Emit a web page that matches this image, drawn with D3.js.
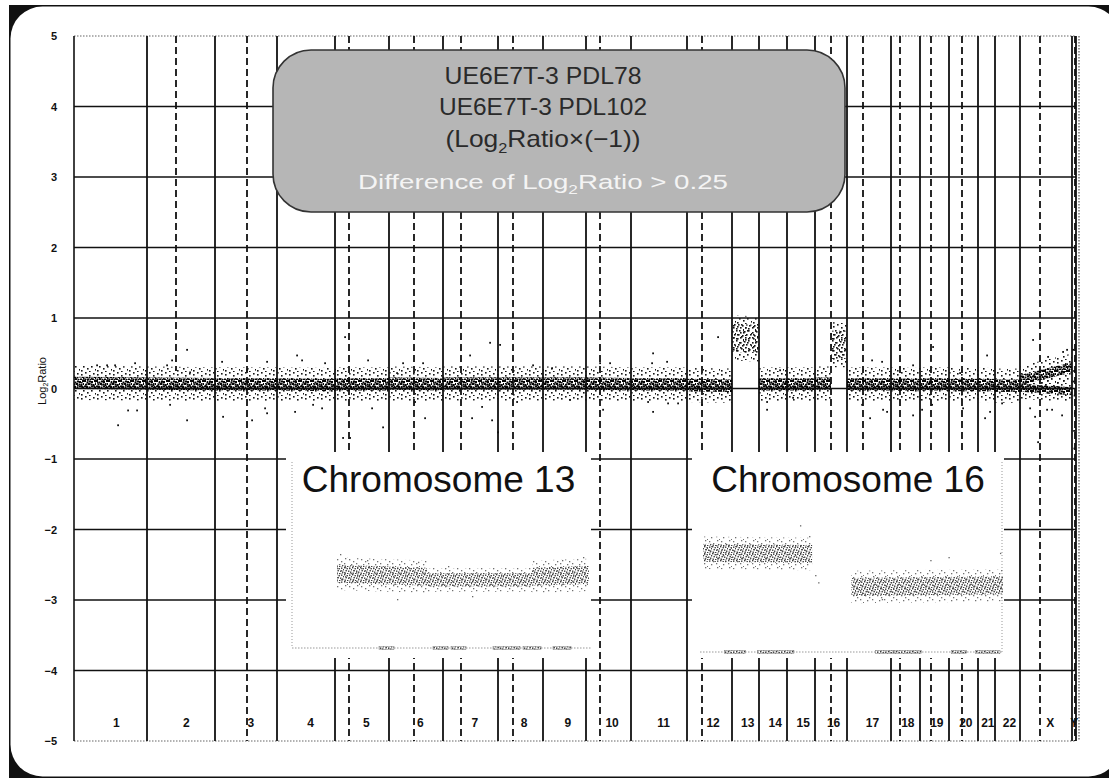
<!DOCTYPE html>
<html><head><meta charset="utf-8">
<script src="https://cdn.jsdelivr.net/npm/d3@7"></script>
<style>body{margin:0;background:#fff;} svg{display:block;}</style>
</head><body>
<svg id="c" width="1109" height="783"></svg>
<script>
// ---- genome layout (array positions per chromosome) ----
const chromNames = ["1","2","3","4","5","6","7","8","9","10","11","12","13","14","15","16","17","18","19","20","21","22","X","Y"];
const chromSpan  = [730,680,620,580,540,540,550,450,430,450,560,450,270,280,280,320,440,290,290,290,170,250,520,40];
// centromere offset inside each chromosome (null = not marked) and the log-ratio where its mark stops
const centromere   = [null,290,320,null,140,250,180,150,null,140,null,150,null,null,null,160,160,90,110,130,null,null,200,30];
const centromereTo = [-5,0.25,-5,-5,-5,-5,-5,-5,-5,-5,-5,-5,-5,-5,-5,-5,-1,-5,-5,-5,-5,-5,-5,-5];
const yTicks = [5,4,3,2,1,0,-1,-2,-3,-4,-5];

// smoothed signal per segment: chromosome, from, to, level at start, level at end, spread
const segments = [
  ["1",0,730,0.08,0.07,0.11], ["2",0,680,0.07,0.06,0.11], ["3",0,620,0.06,0.06,0.11],
  ["4",0,580,0.06,0.05,0.11], ["5",0,540,0.06,0.06,0.11], ["6",0,540,0.07,0.06,0.11],
  ["7",0,550,0.07,0.07,0.11], ["8",0,450,0.07,0.07,0.11], ["9",0,430,0.07,0.07,0.11],
  ["10",0,450,0.07,0.06,0.11], ["11",0,560,0.06,0.06,0.11], ["12",0,450,0.05,0.04,0.11],
  ["13",0,270,0.72,0.70,0.2], ["14",0,280,0.06,0.06,0.11], ["15",0,280,0.06,0.06,0.11],
  ["16",0,160,0.07,0.07,0.11], ["16",160,320,0.62,0.62,0.2], ["17",0,440,0.06,0.06,0.11],
  ["18",0,290,0.06,0.05,0.11], ["19",0,290,0.06,0.06,0.11], ["20",0,290,0.05,0.05,0.11],
  ["21",0,170,0.05,0.05,0.11], ["22",0,250,0.04,0.04,0.11],
  ["X",0,520,0.01,-0.04,0.07], ["X",0,520,0.12,0.30,0.09]
];
// individual probes away from the main band: genome position, log ratio
const outliers = [
  [230,0.33],[330,0.33],[410,0.33],[440,-0.52],[540,-0.31],[630,-0.31],[610,0.36],[930,0.33],
  [980,0.40],[1130,0.55],[1130,-0.45],[960,-0.23],[1160,0.23],[1480,0.38],[1490,-0.40],[1730,0.26],
  [1780,-0.45],[1930,0.38],[1910,-0.28],[1930,-0.35],[2230,0.47],[2210,-0.33],[2280,0.40],[2390,-0.23],
  [2480,-0.28],[2510,0.36],[2710,0.73],[2690,-0.70],[2760,-0.70],[2940,0.40],[2980,-0.28],[3090,-0.55],
  [3230,0.22],[3290,0.36],[3490,0.36],[3510,-0.42],[3410,-0.19],[3960,0.47],[4160,0.65],[4180,-0.45],
  [4260,0.62],[4240,-0.62],[4080,-0.26],[3980,-0.42],[4430,-0.19],[4590,0.33],[4780,0.29],[4960,-0.16],
  [5260,0.36],[5290,-0.30],[5360,0.36],[5740,-0.19],[5790,0.50],[5780,0.36],[5790,-0.33],[5930,0.38],
  [5940,-0.21],[6040,-0.21],[6440,0.73],[6280,-0.23],[6930,-0.19],[6930,-0.30],[7060,0.26],[7190,-0.13],
  [7880,-0.23],[7960,-0.42],[7980,0.40],[8080,0.38],[8090,-0.30],[8130,-0.33],[8260,0.30],[8390,0.33],
  [8390,-0.38],[8590,0.59],[8480,-0.30],[8580,-0.23],[8860,0.22],[8890,-0.28],[9130,0.47],[9110,-0.42],
  [9160,-0.33],[9280,-0.21],[9590,0.69],[9560,-0.28],[9610,-0.40],[9730,-0.30],[9740,0.45],[9780,-0.30],
  [9890,0.52],[9880,-0.38],[9930,0.55],[9640,-0.76],
  [9990,0.55],[10000,0.25],[10005,-0.10],[10010,-0.35],[10000,-0.60],[9995,0.10],[10012,0.40],[10003,-0.85]
];

// detail views: percent along chromosome, level start, level end, spread
const detail13 = [[15,45,0.22,0.17,0.15],[45,80,0.12,0.12,0.11],[80,99,0.17,0.2,0.15]];
const detail16 = [[1,37,0.57,0.55,0.15],[50,100,0.0,0.03,0.15]];
const detail13Pts = [[16,0.55],[25,0.45],[42,0.42],[52,0.35],[90,0.45],[97,0.5],[35,-0.2],[60,-0.15]];
const detail16Pts = [[33,1.03],[36,0.85],[38,0.2],[39,0.08],[76,0.45],[82,0.5],[99,0.57],[60,-0.2]];
// cytoband blocks drawn along the base of each detail view (percent)
const bands13 = [[29,34],[47,52],[53,58],[67,76],[77,83],[87,93]];
const bands16 = [[8,15],[19,31],[58,64],[64,73],[83,88],[91,99]];

const totalSpan = d3.sum(chromSpan);
const chromStart = d3.cumsum([0, ...chromSpan]).slice(0, chromSpan.length);
const startOf = name => chromStart[chromNames.indexOf(name)];

const svg = d3.select("#c");
const defs = svg.append("defs");
const gx = d3.scaleLinear().domain([0, totalSpan]).range([74, 1076]);
const gy = d3.scaleLinear().domain([-5, 5]).range([741, 36]);

function dotPattern(id, w, h, dots, size, color) {
  const p = defs.append("pattern").attr("id", id).attr("patternUnits", "userSpaceOnUse")
    .attr("width", w).attr("height", h);
  p.selectAll("rect").data(dots).join("rect")
    .attr("x", d => d[0]).attr("y", d => d[1]).attr("width", size).attr("height", size).attr("fill", color);
}
dotPattern("core", 12, 10, [[0,0],[2.5,1.5],[5,0.5],[7,1],[10,0],[1.5,3.5],[4,3],[6.5,3.5],[8.5,4],[11,3],
  [0,5.5],[2,6],[4.5,6.5],[7,5.5],[9.5,6],[11,7],[0.5,8.5],[3,8.5],[5.5,9],[8,8.5],[10,9.5]], 2, "#050505");
dotPattern("halo", 16, 12, [[1,2],[5,0],[9,3],[13,1],[3,6],[7,8],[11,6],[15,9],[1,10],[9,11]], 1.6, "#151515");
dotPattern("mid", 12, 10, [[0,1],[4,0],[8,2],[11,0],[2,4],[6,4],[10,5],[1,7],[4,8],[8,7],[11,9]], 1.6, "#151515");
dotPattern("gcore", 8, 7, [[0,0],[2.5,1],[5,0.5],[7,2],[1.5,3],[4,3.5],[6,4.5],[0.5,5.5],[3,6],[5.5,6.5]], 1.4, "#3c3c3c");
dotPattern("ghalo", 12, 9, [[1,1],[5,3],[9,0],[3,6],[8,5],[11,8]], 1.3, "#707070");

// ---- outer frame ----
svg.append("rect").attr("x", 9).attr("y", 5).attr("width", 1110).attr("height", 773).attr("fill", "#111");
svg.append("rect").attr("x", 10.5).attr("y", 6.5).attr("width", 1110).attr("height", 770).attr("rx", 32).attr("fill", "#fff");

// ---- grid ----
const grid = svg.append("g");
grid.selectAll("line.h").data(yTicks).join("line")
  .attr("x1", gx(0)).attr("x2", gx(totalSpan))
  .attr("y1", d => gy(d)).attr("y2", d => gy(d))
  .attr("stroke", d => Math.abs(d) === 5 ? "#666" : "#111")
  .attr("stroke-width", d => Math.abs(d) === 5 ? 1.2 : 1.5)
  .attr("stroke-dasharray", d => Math.abs(d) === 5 ? "1.5,1.5" : null);

grid.append("line").attr("x1", gx(0)).attr("x2", gx(0)).attr("y1", gy(5)).attr("y2", gy(-5))
  .attr("stroke", "#111").attr("stroke-width", 1.6);
grid.append("line").attr("x1", gx(totalSpan) + 3).attr("x2", gx(totalSpan) + 3).attr("y1", gy(5)).attr("y2", gy(-5))
  .attr("stroke", "#555").attr("stroke-width", 1.2).attr("stroke-dasharray", "1.5,1.5");

// chromosome boundaries
grid.selectAll("line.b").data(chromNames.map((n, i) => chromStart[i] + chromSpan[i])).join("line")
  .attr("x1", d => gx(d)).attr("x2", d => gx(d)).attr("y1", gy(5)).attr("y2", gy(-5))
  .attr("stroke", "#111").attr("stroke-width", 1.8);

// centromeres
const cenData = centromere.map((c, i) => c === null ? null : { x: chromStart[i] + c, to: centromereTo[i] }).filter(d => d);
grid.selectAll("line.c").data(cenData).join("line")
  .attr("x1", d => gx(d.x)).attr("x2", d => gx(d.x)).attr("y1", gy(5)).attr("y2", d => gy(d.to))
  .attr("stroke", "#111").attr("stroke-width", 1.8).attr("stroke-dasharray", "7,4");

// ---- signal bands ----
const band = d3.area().x(d => d.x).y0(d => d.y0).y1(d => d.y1);
function bandShape(seg, k, xs, ys, offset) {
  const [c, from, to, l0, l1, s] = seg;
  const st = offset(c);
  return band([
    { x: xs(st + from), y0: ys(l0 - k * s), y1: ys(l0 + k * s) },
    { x: xs(st + to),   y0: ys(l1 - k * s), y1: ys(l1 + k * s) }
  ]);
}
const sig = svg.append("g");
segments.forEach(seg => {
  const raised = seg[5] > 0.15;
  sig.append("path").attr("d", bandShape(seg, raised ? 1.6 : 2.2, gx, gy, startOf)).attr("fill", "url(#halo)");
  sig.append("path").attr("d", bandShape(seg, raised ? 1 : 0.8, gx, gy, startOf)).attr("fill", raised ? "url(#mid)" : "url(#core)");
});
sig.selectAll("rect.o").data(outliers).join("rect")
  .attr("x", d => gx(d[0]) - 0.8).attr("y", d => gy(d[1]) - 0.8)
  .attr("width", 1.8).attr("height", 1.8).attr("fill", "#111");

// ---- detail views ----
const iy = d3.scaleLinear().domain([0, 1]).range([587, 527]);
function detailView(x0, x1, plotL, plotR, title, segs, pts, bands, baseY, axisX) {
  const g = svg.append("g");
  g.append("rect").attr("x", x0).attr("y", 452).attr("width", x1 - x0).attr("height", 206).attr("fill", "#fff");
  const ix = d3.scaleLinear().domain([0, 100]).range([plotL, plotR]);
  g.append("line").attr("x1", axisX).attr("x2", axisX).attr("y1", 462).attr("y2", baseY)
    .attr("stroke", "#999").attr("stroke-width", 1).attr("stroke-dasharray", "1,2");
  g.append("line").attr("x1", ix(0)).attr("x2", ix(100)).attr("y1", baseY).attr("y2", baseY)
    .attr("stroke", "#999").attr("stroke-width", 1.2).attr("stroke-dasharray", "1.5,1.5");
  g.selectAll("rect.cb").data(bands).join("rect")
    .attr("x", d => ix(d[0])).attr("width", d => ix(d[1]) - ix(d[0]))
    .attr("y", baseY - 1.5).attr("height", 3).attr("fill", "url(#gcore)").attr("stroke", "#777").attr("stroke-width", 0.5);
  segs.forEach(s => {
    const seg = ["", ...s];
    g.append("path").attr("d", bandShape(seg, 1.8, ix, iy, () => 0)).attr("fill", "url(#ghalo)");
    g.append("path").attr("d", bandShape(seg, 1, ix, iy, () => 0)).attr("fill", "url(#gcore)");
  });
  g.selectAll("rect.p").data(pts).join("rect")
    .attr("x", d => ix(d[0])).attr("y", d => iy(d[1])).attr("width", 1.3).attr("height", 1.3).attr("fill", "#666");
  g.append("text").attr("x", (x0 + x1) / 2).attr("y", 492).attr("text-anchor", "middle")
    .attr("font-family", "Liberation Sans, Arial, sans-serif").attr("font-size", 37).attr("fill", "#111")
    .text(title);
}
detailView(286, 591, 292, 592, "Chromosome 13", detail13, detail13Pts, bands13, 648, 292);
detailView(692, 1004, 700, 1003, "Chromosome 16", detail16, detail16Pts, bands16, 652, 1002);

// ---- legend box ----
const lg = svg.append("g");
lg.append("rect").attr("x", 273).attr("y", 50).attr("width", 572).attr("height", 162).attr("rx", 38)
  .attr("fill", "#b6b6b6").attr("stroke", "#333").attr("stroke-width", 1.6);
const lfont = "Liberation Sans, Arial, sans-serif";
function legendLine(y, size, color, len, parts) {
  const t = lg.append("text").attr("x", 543).attr("y", y).attr("text-anchor", "middle")
    .attr("font-family", lfont).attr("font-size", size).attr("fill", color)
    .attr("textLength", len).attr("lengthAdjust", "spacingAndGlyphs");
  parts.forEach(p => {
    const s = t.append("tspan").text(p[0]);
    if (p[1]) s.attr("font-size", size * 0.62).attr("dy", size * 0.25);
    if (p[2]) s.attr("dy", -size * 0.25);
  });
}
legendLine(84, 24, "#2a2a2a", 197, [["UE6E7T-3 PDL78"]]);
legendLine(115, 24, "#2a2a2a", 208, [["UE6E7T-3 PDL102"]]);
legendLine(147, 24, "#2a2a2a", 195, [["(Log"], ["2", true], ["Ratio×(−1))", false, true]]);
legendLine(189, 20, "#f4f4f4", 370, [["Difference of Log"], ["2", true], ["Ratio > 0.25", false, true]]);

// ---- axis labels ----
svg.selectAll("text.yt").data(yTicks).join("text")
  .attr("x", 57).attr("y", d => gy(d) + 4).attr("text-anchor", "end")
  .attr("font-family", lfont).attr("font-size", 11).attr("font-weight", "bold").attr("fill", "#111")
  .text(d => d < 0 ? "−" + Math.abs(d) : d);
const yl = svg.append("text").attr("transform", "translate(46,381) rotate(-90)").attr("text-anchor", "middle")
  .attr("font-family", lfont).attr("font-size", 11).attr("fill", "#111");
yl.append("tspan").text("Log");
yl.append("tspan").text("2").attr("font-size", 7).attr("dy", 2);
yl.append("tspan").text("Ratio").attr("dy", -2);

svg.selectAll("text.cl").data(chromNames).join("text")
  .attr("x", (d, i) => gx(chromStart[i] + chromSpan[i] * 0.58)).attr("y", 727).attr("text-anchor", "middle")
  .attr("font-family", lfont).attr("font-size", 12).attr("font-weight", "bold").attr("fill", "#111")
  .text(d => d);
</script>
</body></html>
